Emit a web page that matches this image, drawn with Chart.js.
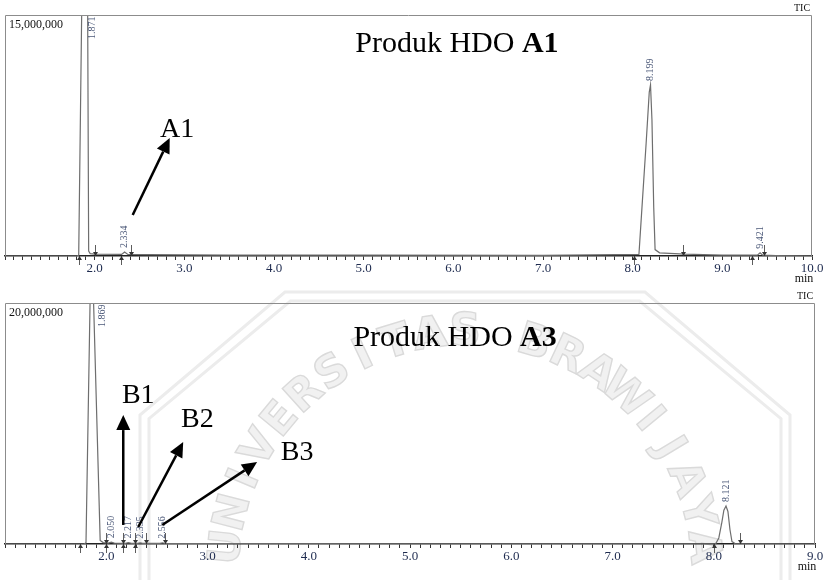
<!DOCTYPE html>
<html>
<head>
<meta charset="utf-8">
<script src="https://cdn.jsdelivr.net/npm/chart.js@4.4.1/dist/chart.umd.min.js"></script>
<style>
  body { margin: 0; background: #fff; width: 826px; height: 580px; overflow: hidden; position: relative; }
  canvas { position: absolute; left: 0; }
  #wm { top: 0; }
  #chart-a1 { top: 0; }
  #chart-a3 { top: 290px; }
</style>
</head>
<body>
<canvas id="wm" width="826" height="580"></canvas>
<canvas id="chart-a1" width="826" height="290"></canvas>
<canvas id="chart-a3" width="826" height="290"></canvas>
<script>
// TIC traces, retention time (min) vs intensity (millions of counts)
const timeA1 = [1.0, 1.80, 1.822, 1.855, 1.871, 1.905, 1.922, 1.933, 1.95, 2.0, 2.30, 2.334, 2.37, 2.6, 3.5, 5.0, 7.0,
  8.07, 8.10, 8.15, 8.185, 8.199, 8.215, 8.235, 8.25, 8.30, 8.58, 9.0, 9.39, 9.421, 9.45, 9.6, 10.0];
const intA1 = [0, 0, 0.05, 15, 24, 18, 15, 0.3, 0.15, 0.12, 0.1, 0.25, 0.1, 0.08, 0.06, 0.05, 0.04,
  0.1, 2.7, 7.0, 10.2, 10.65, 8.5, 3.0, 0.4, 0.2, 0.12, 0.06, 0.05, 0.2, 0.05, 0.03, 0];

const timeA3 = [1.0, 1.78, 1.80, 1.84, 1.855, 1.869, 1.875, 1.94, 1.97, 2.02, 2.05, 2.08, 2.19, 2.217, 2.25, 2.31, 2.335,
  2.36, 2.53, 2.556, 2.58, 3.0, 5.0, 7.5, 8.02, 8.05, 8.08, 8.10, 8.121, 8.14, 8.16, 8.18, 8.21, 8.5, 9.0];
const intA3 = [0, 0, 0.1, 20, 28, 31, 20, 0.3, 0.12, 0.08, 0.15, 0.08, 0.06, 0.12, 0.06, 0.06, 0.1,
  0.05, 0.05, 0.1, 0.04, 0.03, 0.02, 0.02, 0.03, 0.5, 1.8, 2.8, 3.15, 2.7, 1.2, 0.2, 0.04, 0.02, 0];

// labelled peaks
const peaksA1 = [1.871, 2.334, 8.199, 9.421];
const peaksA3 = [1.869, 2.050, 2.217, 2.335, 2.556, 8.121];

// integration start / end markers on the time axis
const startA1 = [1.82, 2.29, 8.02, 9.33];
const endA1 = [2.0, 2.40, 8.56, 9.46];
const startA3 = [1.74, 2.0, 2.17, 2.28, 8.0];
const endA3 = [2.0, 2.17, 2.28, 2.39, 2.58, 8.26];

// full-scale intensities (millions)
const maxA1 = 15;
const maxA3 = 20;

// callouts: [fromTime, fromInt, toTime, toInt]
const arrowsA1 = [[2.424, 2.55, 2.837, 7.34]];
const arrowsA3 = [[2.168, 1.58, 2.168, 10.7], [2.316, 1.41, 2.76, 8.46], [2.553, 1.58, 3.49, 6.8]];
// [text, time, intensity]
const notesA1 = [['A1', 2.92, 7.4]];
const notesA3 = [['B1', 2.316, 11.7], ['B2', 2.90, 9.7], ['B3', 3.885, 7.0]];
const titleA1 = ['Produk HDO ', 'A1', 6.04, 12.7];
const titleA3 = ['Produk HDO ', 'A3', 5.445, 16.4];

const SERIF = "'Liberation Serif', 'DejaVu Serif', serif";

// faint university seal behind both panels
(function drawSeal() {
  const c = document.getElementById('wm').getContext('2d');
  const cx = 465, cy = 572, r = 238;
  const text = 'UNIVERSITAS BRAWIJAYA';
  c.font = "bold 44px 'DejaVu Sans', sans-serif";
  c.textAlign = 'center';
  c.textBaseline = 'middle';
  c.fillStyle = '#f1f1f1';
  c.strokeStyle = '#dadada';
  c.lineWidth = 1.4;
  const a0 = -174, step = 8.4;
  for (let i = 0; i < text.length; i++) {
    const a = (a0 + i * step) * Math.PI / 180;
    c.save();
    c.translate(cx + r * Math.cos(a), cy + r * Math.sin(a));
    c.rotate(a + Math.PI / 2);
    c.fillText(text[i], 0, 0);
    c.strokeText(text[i], 0, 0);
    c.restore();
  }
  c.strokeStyle = '#ececec';
  c.lineWidth = 3;
  [0, 9].forEach(d => {
    c.beginPath();
    c.moveTo(140 + d, 600);
    c.lineTo(140 + d, 415 + d * 0.4);
    c.lineTo(285 + d * 0.6, 292 + d);
    c.lineTo(645 - d * 0.6, 292 + d);
    c.lineTo(790 - d, 415 + d * 0.4);
    c.lineTo(790 - d, 600);
    c.stroke();
  });
})();

function drawArrow(ctx, x0, y0, x1, y1) {
  const ang = Math.atan2(y1 - y0, x1 - x0);
  const len = 15, half = 7;
  const bx = x1 - len * Math.cos(ang), by = y1 - len * Math.sin(ang);
  ctx.beginPath();
  ctx.moveTo(x0, y0);
  ctx.lineTo(bx, by);
  ctx.stroke();
  ctx.beginPath();
  ctx.moveTo(x1, y1);
  ctx.lineTo(bx + half * Math.sin(ang), by - half * Math.cos(ang));
  ctx.lineTo(bx - half * Math.sin(ang), by + half * Math.cos(ang));
  ctx.closePath();
  ctx.fill();
}

// frame, peak labels, markers and callouts
const decor = {
  id: 'decor',
  afterDraw(chart, args, o) {
    const { ctx, chartArea: a, scales: { x, y } } = chart;
    ctx.save();

    ctx.strokeStyle = '#8c8c8c';
    ctx.lineWidth = 1;
    ctx.beginPath();
    ctx.moveTo(a.left + 0.5, a.bottom);
    ctx.lineTo(a.left + 0.5, a.top + 0.5);
    ctx.lineTo(a.right - 0.5, a.top + 0.5);
    ctx.lineTo(a.right - 0.5, a.bottom);
    ctx.stroke();

    ctx.fillStyle = '#111';
    ctx.font = '12px ' + SERIF;
    ctx.textAlign = 'left';
    ctx.textBaseline = 'top';
    ctx.fillText(o.fullScale, a.left + 4, a.top + 4);
    ctx.font = '10px ' + SERIF;
    ctx.textAlign = 'center';
    ctx.textBaseline = 'bottom';
    ctx.fillText('TIC', a.right - 10, a.top - 2);
    ctx.font = '12px ' + SERIF;
    ctx.textBaseline = 'top';
    ctx.fillText('min', a.right - 8, a.bottom + 17);

    // retention time labels above each peak
    ctx.fillStyle = '#4b5878';
    ctx.font = '10px ' + SERIF;
    ctx.textAlign = 'left';
    ctx.textBaseline = 'middle';
    o.peaks.forEach(t => {
      const v = o.ints[o.times.indexOf(t)];
      let px = x.getPixelForValue(t);
      let py = Math.min(y.getPixelForValue(v) - 4, a.bottom - 4);
      if (py < a.top + 30) { py = a.top + 24; px += 9; }
      ctx.save();
      ctx.translate(px, py);
      ctx.rotate(-Math.PI / 2);
      ctx.fillText(t.toFixed(3), 0, 0);
      ctx.restore();
    });

    // start (up) and end (down) ticks on the baseline
    ctx.strokeStyle = '#333';
    ctx.fillStyle = '#333';
    ctx.lineWidth = 0.8;
    const base = a.bottom;
    o.starts.forEach(t => {
      const px = Math.round(x.getPixelForValue(t)) + 0.5;
      ctx.beginPath(); ctx.moveTo(px, base + 9); ctx.lineTo(px, base); ctx.stroke();
      ctx.beginPath(); ctx.moveTo(px, base); ctx.lineTo(px - 2.5, base + 4); ctx.lineTo(px + 2.5, base + 4); ctx.fill();
    });
    o.ends.forEach(t => {
      const px = Math.round(x.getPixelForValue(t)) + 0.5;
      ctx.beginPath(); ctx.moveTo(px, base - 11); ctx.lineTo(px, base); ctx.stroke();
      ctx.beginPath(); ctx.moveTo(px, base); ctx.lineTo(px - 2.5, base - 4); ctx.lineTo(px + 2.5, base - 4); ctx.fill();
    });

    // callout arrows and letters
    ctx.strokeStyle = '#000';
    ctx.fillStyle = '#000';
    ctx.lineWidth = 2.5;
    o.arrows.forEach(([t0, v0, t1, v1]) => {
      drawArrow(ctx, x.getPixelForValue(t0), y.getPixelForValue(v0), x.getPixelForValue(t1), y.getPixelForValue(v1));
    });
    ctx.font = '28px ' + SERIF;
    ctx.textAlign = 'center';
    ctx.textBaseline = 'alphabetic';
    o.notes.forEach(([txt, t, v]) => ctx.fillText(txt, x.getPixelForValue(t), y.getPixelForValue(v)));

    // panel title, plain text then bold sample code
    const [plain, bold, tt, tv] = o.title;
    const tf = '30px ' + SERIF;
    ctx.textAlign = 'left';
    ctx.font = tf;
    const w1 = ctx.measureText(plain).width;
    ctx.font = 'bold ' + tf;
    const w2 = ctx.measureText(bold).width;
    const x0 = x.getPixelForValue(tt) - (w1 + w2) / 2;
    const ty = y.getPixelForValue(tv);
    ctx.font = tf;
    ctx.fillText(plain, x0, ty);
    ctx.font = 'bold ' + tf;
    ctx.fillText(bold, x0 + w1, ty);

    ctx.restore();
  }
};

function makeChart(id, times, ints, xMax, yMax, pad, extra) {
  return new Chart(document.getElementById(id), {
    type: 'line',
    data: {
      datasets: [{
        data: times.map((t, i) => ({ x: t, y: ints[i] })),
        borderColor: '#6e6e6e',
        borderWidth: 1.2,
        pointRadius: 0,
        tension: 0,
        fill: false,
      }]
    },
    options: {
      responsive: false,
      animation: false,
      layout: { padding: pad },
      plugins: {
        legend: { display: false },
        tooltip: { enabled: false },
        decor: extra,
      },
      scales: {
        x: {
          type: 'linear',
          min: 1,
          max: xMax,
          afterFit: (s) => { s.height = 30; },
          border: { color: '#222', width: 1.5 },
          grid: { drawOnChartArea: false, drawTicks: true, tickLength: 4, color: '#333' },
          ticks: {
            stepSize: 0.1,
            autoSkip: false,
            maxRotation: 0,
            padding: 1,
            color: '#1e2b4f',
            font: { family: SERIF, size: 13 },
            callback: (v) => {
              const r = Math.round(v);
              return (Math.abs(v - r) < 1e-6 && r >= 2) ? r.toFixed(1) : '';
            }
          }
        },
        y: { display: false, min: 0, max: yMax }
      }
    },
    plugins: [decor]
  });
}

makeChart('chart-a1', timeA1, intA1, 10, maxA1,
  { top: 15, left: 5, right: 14, bottom: 4 },
  { fullScale: '15,000,000', times: timeA1, ints: intA1, peaks: peaksA1, starts: startA1, ends: endA1,
    arrows: arrowsA1, notes: notesA1, title: titleA1 });

makeChart('chart-a3', timeA3, intA3, 9, maxA3,
  { top: 13, left: 5, right: 11, bottom: 6 },
  { fullScale: '20,000,000', times: timeA3, ints: intA3, peaks: peaksA3, starts: startA3, ends: endA3,
    arrows: arrowsA3, notes: notesA3, title: titleA3 });
</script>
</body>
</html>
